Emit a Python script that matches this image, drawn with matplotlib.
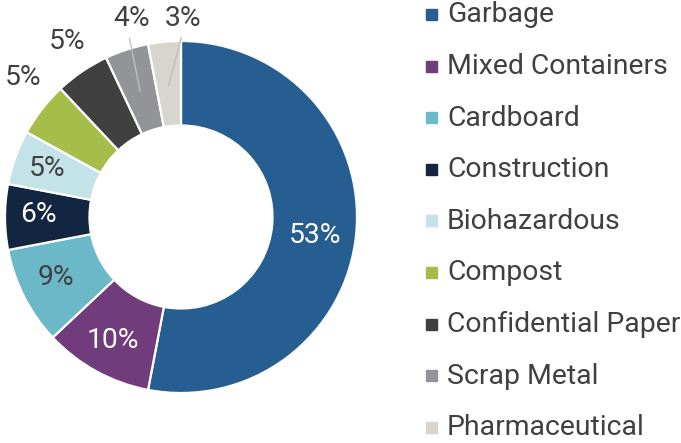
import numpy as np
import matplotlib.pyplot as plt
from matplotlib.patches import Rectangle

plt.rcParams['font.family'] = ['Roboto', 'DejaVu Sans']

# ---- data
categories = ["Garbage", "Mixed Containers", "Cardboard", "Construction", "Biohazardous",
              "Compost", "Confidential Paper", "Scrap Metal", "Pharmaceutical"]
shares = [53, 10, 9, 6, 5, 5, 5, 4, 3]
colors = ["#275E91", "#703C7C", "#6BB8C8", "#122641", "#C4E3E8",
          "#A6BD4A", "#404040", "#929497", "#D8D4CE"]
label_colors = ["white", "white", "#404040", "white", "#404040",
                "#404040", "#404040", "#404040", "#404040"]
# label placement: (radius, angle shift in degrees)
label_pos = [(0.77, -2.3), (0.80, 0), (0.79, -1), (0.81, -1), (0.81, 0),
             (1.20, -4), (1.20, -1.5), (1.17, -4), (1.14, -6)]
leader = [False] * 7 + [True, True]

W, H = 681, 443
fig = plt.figure(figsize=(W / 100, H / 100), dpi=100)

# pie axes: centre at (181, 217) px from top-left, radius 176 px
R = 176.0
cx, cy = 181.0, H - 217.0
ax = fig.add_axes([0, 0, 362 / W, 1])
wedges, _ = ax.pie(shares, colors=colors, startangle=90, counterclock=False, radius=1.0,
                   wedgeprops=dict(width=0.48, edgecolor="white", linewidth=1.6))
ax.set_aspect("auto")
ax.set_xlim(-cx / R, (362 - cx) / R)
ax.set_ylim(-cy / R, (H - cy) / R)
ax.axis("off")

for w, val, lc, (r, shift), ld in zip(wedges, shares, label_colors, label_pos, leader):
    mid = np.deg2rad((w.theta1 + w.theta2) / 2)
    a = mid + np.deg2rad(shift)
    tx, ty = r * np.cos(a), r * np.sin(a)
    if r > 1:
        ty -= 0.01
    ax.text(tx, ty, f"{val}%", color=lc, fontsize=20.3, ha="center", va="center")
    if ld:
        ax.plot([tx - 0.01, 0.75 * np.cos(mid)],
                [ty - 0.11, 0.75 * np.sin(mid)], color="#BFBFBF", lw=1)

# ---- legend
row0, step = 15, 51.6
for i, (name, c) in enumerate(zip(categories, colors)):
    yc = H - (row0 + i * step)
    fig.patches.append(Rectangle((426 / W, (yc - 5) / H), 11 / W, 11 / H,
                                 transform=fig.transFigure, color=c))
    fig.text(447 / W, yc / H, name, fontsize=20.4, color="#404040", va="center", ha="left")

fig.savefig("out.png", dpi=100)
